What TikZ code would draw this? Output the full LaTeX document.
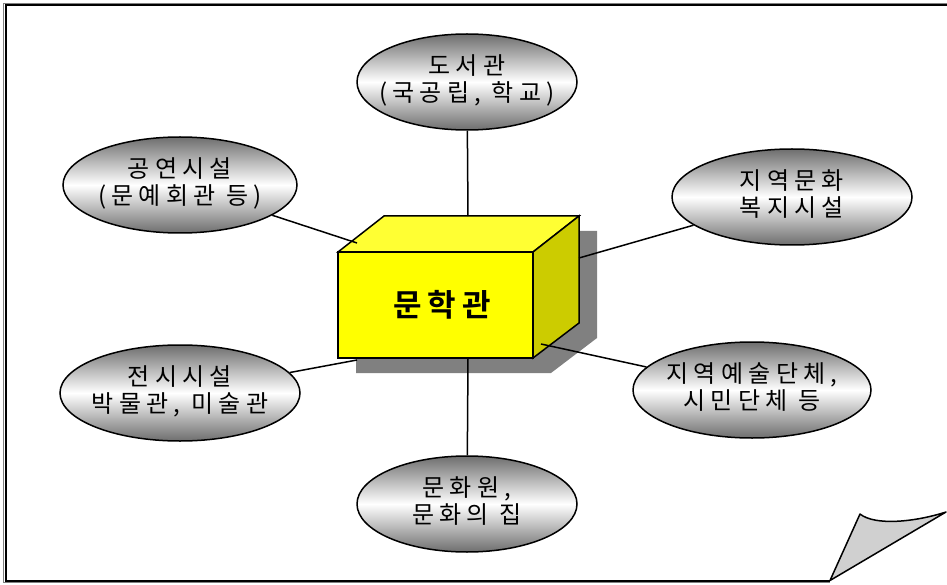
\documentclass[tikz,border=0pt]{standalone}
\usepackage{fontspec}
\newfontfamily\kr[LetterSpace=22]{Noto Sans CJK KR}
\newfontfamily\krb[LetterSpace=20]{Noto Sans CJK KR Bold}
\newcommand\bubtext[1]{\makebox[0pt][c]{\begin{tabular}{@{}c@{}}#1\end{tabular}}}
\definecolor{shadowgray}{RGB}{128,128,128}
\definecolor{ellgray}{RGB}{110,110,110}
\definecolor{frontyellow}{RGB}{255,255,0}
\definecolor{topyellow}{RGB}{255,255,51}
\definecolor{sideyellow}{RGB}{204,204,0}
\definecolor{curlgray}{RGB}{208,208,208}
\usetikzlibrary{shapes.geometric}
\tikzset{
  bubble/.style={ellipse, draw=black, line width=1.5pt, minimum width=#1, minimum height=96pt,
    top color=ellgray, bottom color=ellgray, middle color=white, inner sep=0pt,
    font=\kr\fontsize{24}{26}\selectfont},
  bubble/.default=236pt,
  link/.style={line width=1.5pt, black},
  boxedge/.style={draw=black, line width=1.5pt, line join=miter}
}
\begin{document}
\begin{tikzpicture}[x=1pt,y=-1pt]
\useasboundingbox (0,0) rectangle (947,585);
% frame
\draw[shadowgray, line width=1pt] (947,3.5) -- (3.5,3.5) -- (3.5,582.5) -- (830,582.5);
\draw[black, line width=2pt] (947,5.5) -- (5.5,5.5) -- (5.5,580.5) -- (830,580.5);
% page curl
\draw[black, line width=1.5pt, fill=curlgray, line join=round]
  (830,580.5) -- (860,514) .. controls (875,526) and (915,522) .. (946,512) -- cycle;
% shadow of the box
\fill[shadowgray] (356,267) -- (402,231) -- (597,231) -- (597,338) -- (551,373) -- (356,373) -- cycle;
% box faces
\filldraw[boxedge, fill=topyellow] (338,252) -- (384,216) -- (579,216) -- (533,252) -- cycle;
\filldraw[boxedge, fill=sideyellow] (533,252) -- (579,216) -- (579,323) -- (533,358) -- cycle;
\filldraw[boxedge, fill=frontyellow] (338,252) rectangle (533,358);
\node[font=\krb\fontsize{31}{34}\selectfont] (center) at (442,305) {문학관};
% connector ends on the box
\coordinate (bTop) at (468,216);
\coordinate (bBot) at (468,358);
\coordinate (bUL) at (357,243);
\coordinate (bUR) at (579,258);
\coordinate (bLL) at (357,360);
\coordinate (bLR) at (541,344);
% bubbles
\node[bubble=220pt] (lib) at (467,82) {\bubtext{도서관\\(국공립, 학교)}};
\node[bubble=234pt] (perf) at (180,185) {\bubtext{공연시설\\(문예회관 등)}};
\node[bubble=240pt] (welf) at (792,197) {\bubtext{지역문화\\복지시설}};
\node[bubble=240pt] (exh) at (180,393) {\bubtext{전시시설\\박물관, 미술관}};
\node[bubble=238pt] (arts) at (752,390) {\bubtext{지역예술단체,\\시민단체 등}};
\node[bubble=220pt] (cult) at (467,504) {\bubtext{문화원,\\문화의 집}};
% connectors
\draw[link] (lib) -- (bTop);
\draw[link] (cult) -- (bBot);
\draw[link] (perf) -- (bUL);
\draw[link] (welf) -- (bUR);
\draw[link] (exh) -- (bLL);
\draw[link] (arts) -- (bLR);
\end{tikzpicture}
\end{document}
